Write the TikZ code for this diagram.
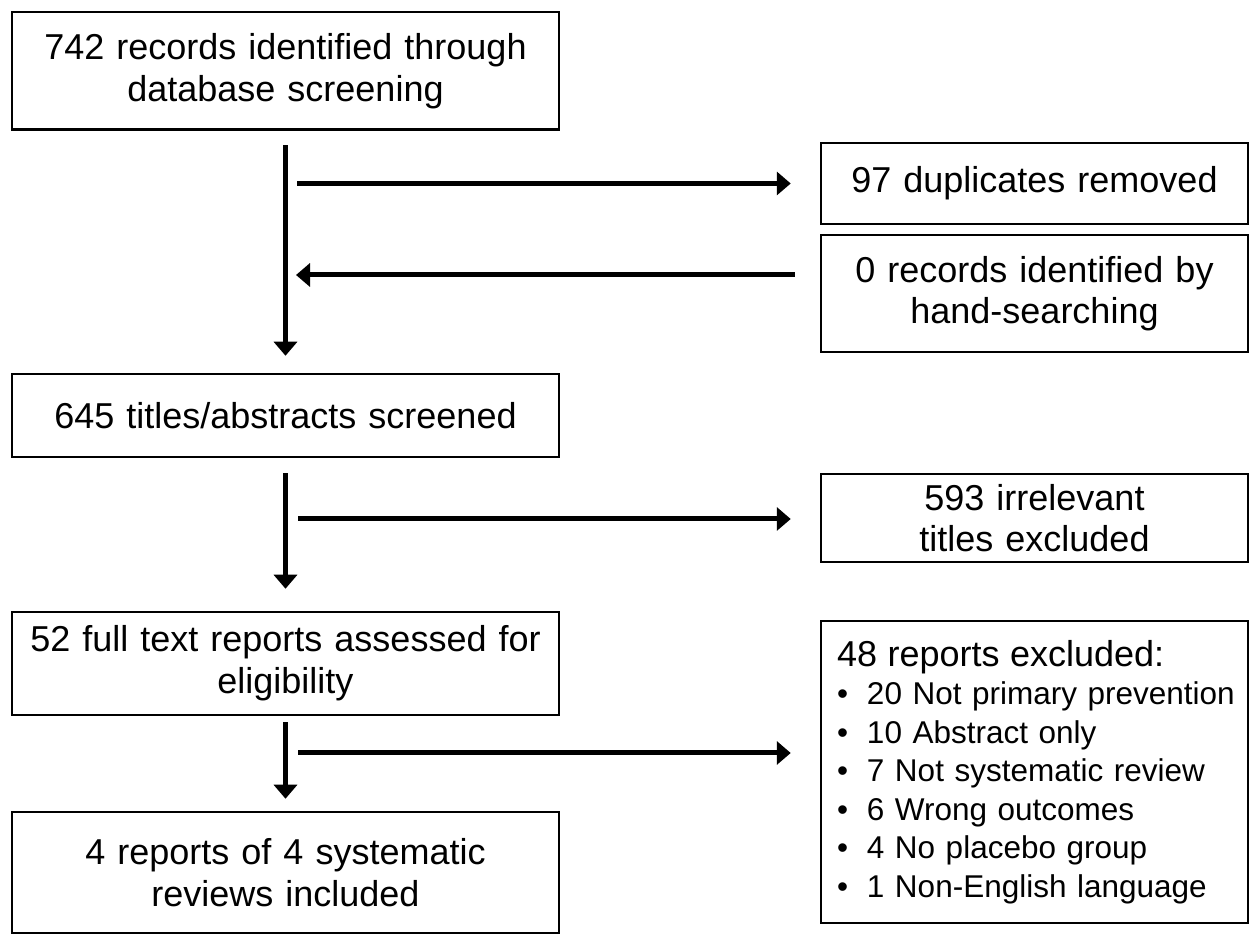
\documentclass[tikz,border=0pt]{standalone}
\usepackage{fontspec}
\setmainfont{Liberation Sans}
\usetikzlibrary{arrows.meta,calc}
\newcommand{\exitem}[1]{\mbox{\makebox[30pt][l]{\textbullet}#1}}
\begin{document}
\begin{tikzpicture}[x=1pt,y=1pt,
  box/.style={draw=black, line width=2.5pt, rectangle, inner sep=0pt,
              align=center, font=\fontsize{36}{42}\selectfont},
  leftbox/.style={box, minimum width=547pt, text width=540pt},
  rightbox/.style={box, minimum width=427pt, text width=420pt},
  flow/.style={line width=5pt, -{Triangle[length=14pt,width=23pt]}}]
\useasboundingbox (0,0) rectangle (1251,937);

% main column
\node[leftbox, minimum height=117.5pt] (records) at (285.5,866.25)
  {742 records identified through\\database screening};
\node[leftbox, minimum height=83pt] (screened) at (285.5,521.5)
  {645 titles/abstracts screened};
\node[leftbox, minimum height=103pt] (fulltext) at (285.5,273.5)
  {52 full text reports assessed for\\eligibility};
\node[leftbox, minimum height=121pt] (included) at (285.5,64.5)
  {4 reports of 4 systematic\\reviews included};

% side column
\node[rightbox, minimum height=81pt] (dupes) at (1034.5,753.5)
  {97 duplicates removed};
\node[rightbox, minimum height=117pt, font=\fontsize{36}{41}\selectfont] (hand) at (1034.5,643.5)
  {0 records identified by\\hand-searching};
\node[rightbox, minimum height=88pt, font=\fontsize{36}{41}\selectfont] (irrelevant) at (1034.5,419)
  {593 irrelevant\\titles excluded};
\node[box, minimum width=427pt, minimum height=302pt, text width=395pt,
      align=left, font=\fontsize{31.5}{38.5}\selectfont] (excluded) at (1034.5,165)
  {\mbox{\fontsize{36}{38.5}\selectfont 48 reports excluded:}\\
   \exitem{20 Not primary prevention}\\
   \exitem{10 Abstract only}\\
   \exitem{7 Not systematic review}\\
   \exitem{6 Wrong outcomes}\\
   \exitem{4 No placebo group}\\
   \exitem{1 Non-English language}};

% connectors
\draw[flow] ($(records.south)+(0,-14.5)$) -- ($(screened.north)+(0,17)$);
\draw[flow] ($(records.south |- dupes.west)+(11.5,0)$) -- ($(dupes.west)+(-29,0)$);
\draw[flow] ($(hand.west)+(-25,18.5)$) -- ($(records.south |- hand.west)+(10.5,18.5)$);

\draw[flow] ($(screened.south)+(0,-15)$) -- ($(fulltext.north)+(0,22)$);
\draw[flow] ($(screened.south |- irrelevant.west)+(12.5,-1)$) -- ($(irrelevant.west)+(-29,-1)$);

\draw[flow] ($(fulltext.south)+(0,-6)$) -- ($(included.north)+(0,12)$);
\draw[flow] ($(fulltext.south |- excluded.west)+(12.5,19)$) -- ($(excluded.west)+(-29,19)$);
\end{tikzpicture}
\end{document}
